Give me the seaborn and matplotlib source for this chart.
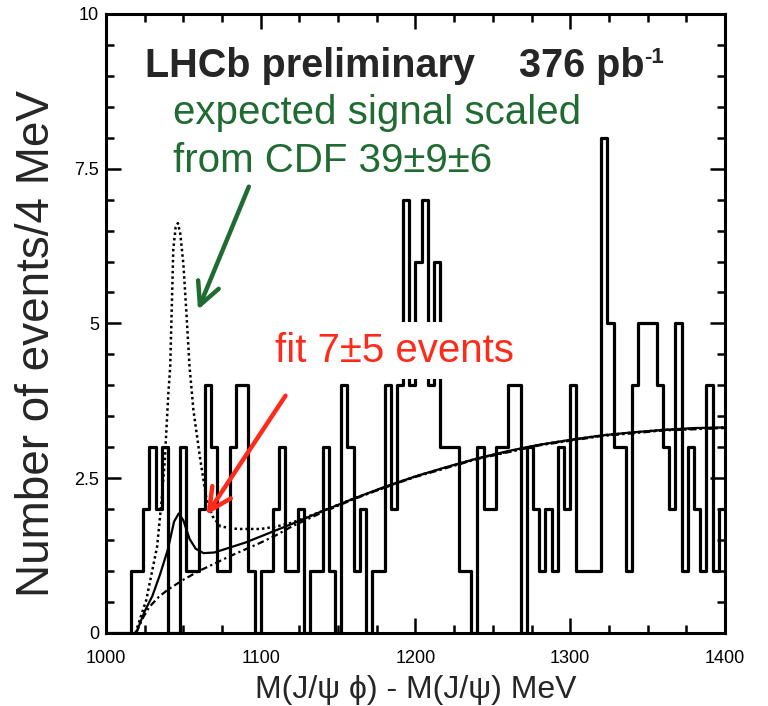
import numpy as np
import pandas as pd
import matplotlib
matplotlib.use("Agg")
import matplotlib.pyplot as plt
import seaborn as sns
from matplotlib.ticker import MultipleLocator

# histogram: 4 MeV bins starting at 1000 MeV
bin_start = 1000
bin_width = 4
counts = [0, 0, 0, 0,
          1, 1, 2, 3, 2, 3, 0, 0, 3, 1,
          1, 2, 4, 3, 1, 1, 3, 4, 4, 1,
          0, 1, 1, 2, 3, 1, 1, 2, 0, 1,
          1, 3, 1, 0, 4, 3, 1, 2, 0, 1,
          1, 4, 2, 4, 7, 4, 6, 7, 4, 6,
          3, 3, 3, 1, 1, 0, 3, 2, 2, 3,
          3, 4, 4, 0, 3, 2, 1, 2, 1, 3,
          2, 4, 1, 1, 1, 1, 8, 5, 3, 3,
          1, 4, 5, 5, 5, 4, 3, 2, 5, 1,
          3, 2, 1, 4, 1, 2]

# total fit (solid)
fit_x = [1019.5, 1025, 1030, 1035, 1040, 1044, 1047, 1050, 1054, 1058, 1063,
         1070, 1080, 1090, 1100, 1120, 1140, 1160, 1180, 1200, 1220, 1240,
         1260, 1280, 1300, 1320, 1340, 1360, 1380, 1400]
fit_y = [0.0, 0.35, 0.6, 0.95, 1.35, 1.8, 1.93, 1.82, 1.52, 1.36, 1.29,
         1.3, 1.38, 1.46, 1.56, 1.76, 1.97, 2.17, 2.36, 2.53, 2.68, 2.82,
         2.94, 3.04, 3.12, 3.19, 3.24, 3.28, 3.31, 3.32]

# background only (dash-dot)
bkg_x = [1019.5, 1024, 1028, 1034, 1040, 1050, 1060, 1070, 1080, 1090, 1100,
         1110, 1120, 1140, 1160, 1180, 1200, 1240, 1280, 1320, 1360, 1400]
bkg_y = [0.0, 0.25, 0.42, 0.58, 0.7, 0.86, 1.0, 1.12, 1.24, 1.35, 1.46,
         1.58, 1.72, 1.95, 2.16, 2.35, 2.52, 2.81, 3.03, 3.18, 3.27, 3.31]

# expected CDF-like signal + background (dotted)
exp_x = [1019, 1026, 1033, 1036, 1038, 1040.3, 1041.5, 1043.5, 1045, 1046.5,
         1048, 1050, 1052, 1054, 1056.5, 1061, 1065, 1069, 1074, 1085, 1100,
         1110, 1120, 1140, 1160, 1200, 1240, 1280, 1320, 1360, 1400]
exp_y = [0.0, 0.53, 1.39, 2.15, 2.79, 3.87, 4.3, 6.2, 6.55, 6.62,
         6.45, 5.96, 5.16, 4.3, 3.6, 2.79, 2.15, 1.88, 1.72, 1.68, 1.68,
         1.72, 1.78, 1.97, 2.17, 2.53, 2.82, 3.04, 3.19, 3.28, 3.32]

edges = bin_start + bin_width * np.arange(len(counts) + 1)
hist_df = pd.DataFrame({"mass": edges[:-1] + bin_width / 2, "n": counts})

sns.set_style("ticks")
plt.rcParams["font.family"] = ["Liberation Sans", "DejaVu Sans"]

fig = plt.figure(figsize=(7.68, 7.06), dpi=100)
ax = fig.add_axes([0.138, 0.1034, 0.806, 0.877])

sns.histplot(data=hist_df, x="mass", weights="n", bins=edges.tolist(),
             element="step", fill=False, color="black", linewidth=2.3, ax=ax)

sns.lineplot(x=bkg_x, y=bkg_y, ax=ax, color="black", lw=1.6,
             linestyle=(0, (3, 1.5, 1, 1.5)))
sns.lineplot(x=exp_x, y=exp_y, ax=ax, color="black", lw=1.8,
             linestyle=(0, (1, 1.2)))
sns.lineplot(x=fit_x, y=fit_y, ax=ax, color="black", lw=1.6)

ax.set_xlim(1000, 1400)
ax.set_ylim(0, 10)
ax.xaxis.set_major_locator(MultipleLocator(100))
ax.xaxis.set_minor_locator(MultipleLocator(25))
ax.yaxis.set_major_locator(MultipleLocator(2.5))
ax.yaxis.set_minor_locator(MultipleLocator(0.5))
ax.set_yticks([0, 2.5, 5, 7.5, 10])
ax.set_yticklabels(["0", "2.5", "5", "7.5", "10"])
ax.tick_params(which="both", direction="in", top=True, right=True,
               width=1.8, labelsize=13, colors="black")
ax.tick_params(which="major", length=11)
ax.tick_params(axis="x", which="major", pad=12)
ax.tick_params(axis="y", which="major", pad=5)
ax.tick_params(which="minor", length=6)
for s in ax.spines.values():
    s.set_linewidth(2.2)
    s.set_color("black")

ax.set_xlabel("M(J/\u03c8 \u03d5) - M(J/\u03c8) MeV", fontsize=23, labelpad=6)
ax.set_ylabel("Number of events/4 MeV", fontsize=33)
ax.yaxis.set_label_coords(-0.076, 0.467)

t1 = ax.text(1025, 9.16, "LHCb preliminary    376 pb", fontweight="bold",
             fontsize=28.5, va="center", ha="left")
ax.annotate("-1", xy=(1.0, 1.0), xycoords=t1, va="top", ha="left",
            fontweight="bold", fontsize=16)

green = "#1f6b32"
ax.text(1043, 8.4, "expected signal scaled", color=green, fontsize=29,
        va="center", ha="left")
ax.text(1043, 7.63, "from CDF 39\u00b19\u00b16", color=green, fontsize=29,
        va="center", ha="left")
ax.annotate("", xy=(1058.8, 5.18), xytext=(1093, 7.25),
            arrowprops=dict(arrowstyle="->", color=green, lw=3.2,
                            mutation_scale=40))

red = "#ff2a1a"
ax.text(1109, 4.56, "fit 7\u00b15 events", color=red, fontsize=29,
        va="center", ha="left", zorder=5,
        bbox=dict(facecolor="white", edgecolor="none", pad=7))
ax.annotate("", xy=(1064, 1.87), xytext=(1117, 3.87),
            arrowprops=dict(arrowstyle="->", color=red, lw=3.2,
                            mutation_scale=40))

fig.savefig("out.png", dpi=100)
